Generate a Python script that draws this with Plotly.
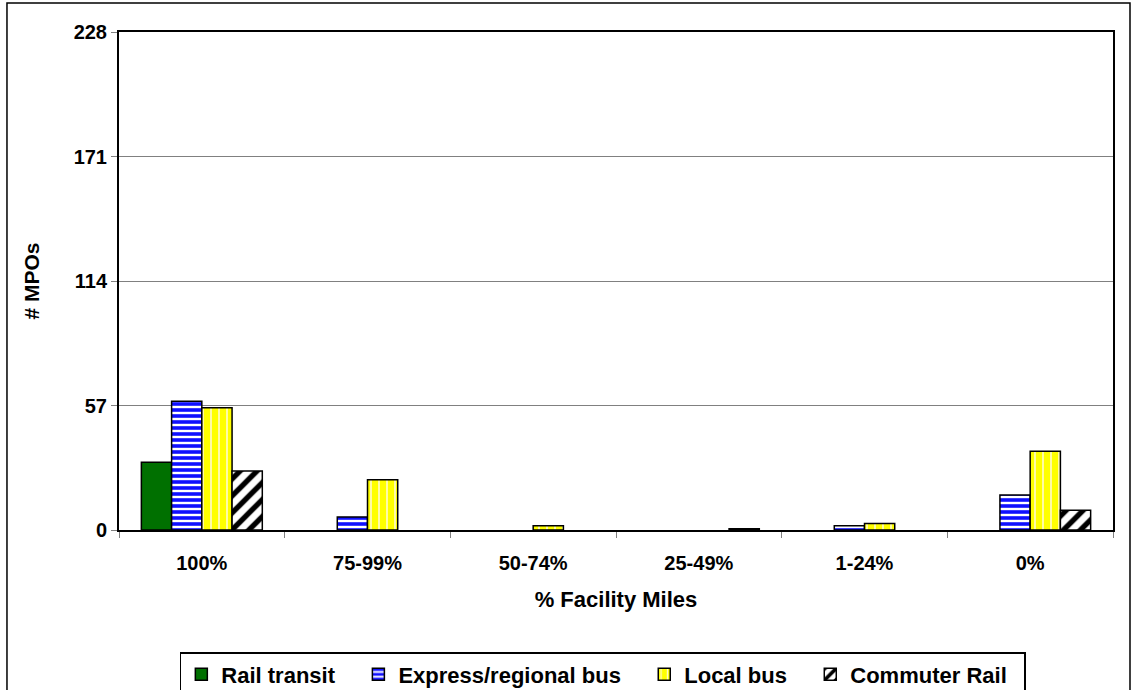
import plotly.graph_objects as go

categories = ["100%", "75-99%", "50-74%", "25-49%", "1-24%", "0%"]
rail_transit = [31, None, None, None, None, None]
express_bus = [59, 6, None, None, 2, 16]
local_bus = [56, 23, 2, None, 3, 36]
commuter_rail = [27, None, None, 0.6, None, 9]
y_ticks = [0, 57, 114, 171, 228]

FONT = "Liberation Sans, Arial, sans-serif"
PAD = "\u00a0\u00a0\u00a0"

fig = go.Figure()

fig.add_trace(go.Bar(
    x=categories, y=rail_transit, name="Rail transit" + PAD,
    marker=dict(color="#007000", line=dict(color="black", width=1.5)),
))
fig.add_trace(go.Bar(
    x=categories, y=express_bus, name="Express/regional bus" + PAD,
    marker=dict(color="#0000ff", line=dict(color="black", width=1.5),
                pattern=dict(shape="-", bgcolor="#1010ff", fgcolor="white",
                             size=6, solidity=0.4, fillmode="replace")),
))
fig.add_trace(go.Bar(
    x=categories, y=local_bus, name="Local bus" + PAD,
    marker=dict(color="#ffff00", line=dict(color="black", width=1.5),
                pattern=dict(shape="|", bgcolor="#ffff00", fgcolor="#fffbd0",
                             size=8, solidity=0.2, fillmode="replace")),
))
fig.add_trace(go.Bar(
    x=categories, y=commuter_rail, name="Commuter Rail\u00a0\u00a0",
    marker=dict(color="white", line=dict(color="black", width=1.5),
                pattern=dict(shape="/", bgcolor="white", fgcolor="black",
                             size=12, solidity=0.45, fillmode="replace")),
))

# outer chart border
fig.add_shape(type="rect", xref="paper", yref="paper",
              x0=-0.1127, x1=1.0171, y0=-0.4, y1=1.058,
              line=dict(color="black", width=1.5), layer="below")

fig.update_layout(
    width=1131, height=690,
    margin=dict(l=119, r=18, t=32, b=160),
    paper_bgcolor="white", plot_bgcolor="white",
    barmode="group", bargap=0.27, bargroupgap=0,
    font=dict(family=FONT, size=20, color="black", weight="bold"),
    xaxis=dict(
        title=dict(text="% Facility Miles", font=dict(size=22, weight="bold"), standoff=19),
        tickfont=dict(size=20, weight="bold"),
        ticklabelstandoff=14,
        showline=True, linecolor="black", linewidth=2, mirror=True,
        ticks="outside", tickson="boundaries", ticklen=6, tickcolor="#808080",
    ),
    yaxis=dict(
        title=dict(text="# MPOs", font=dict(size=21, weight="bold"), standoff=28),
        range=[0, 228], tickvals=y_ticks,
        tickfont=dict(size=20, weight="bold"),
        showgrid=True, gridcolor="#808080", gridwidth=1,
        showline=True, linecolor="black", linewidth=2, mirror=True,
        ticks="outside", ticklen=6, tickcolor="#808080",
        zeroline=False,
    ),
    legend=dict(
        orientation="h", xref="container", yref="container",
        x=0.159, xanchor="left", y=0.055, yanchor="top",
        bordercolor="black", borderwidth=1.5,
        font=dict(size=22, family=FONT, weight="bold"), itemwidth=30,
        traceorder="normal",
    ),
)

fig.write_html("out.html", config={"displayModeBar": False},
               post_script="document.body.style.margin='0';")
